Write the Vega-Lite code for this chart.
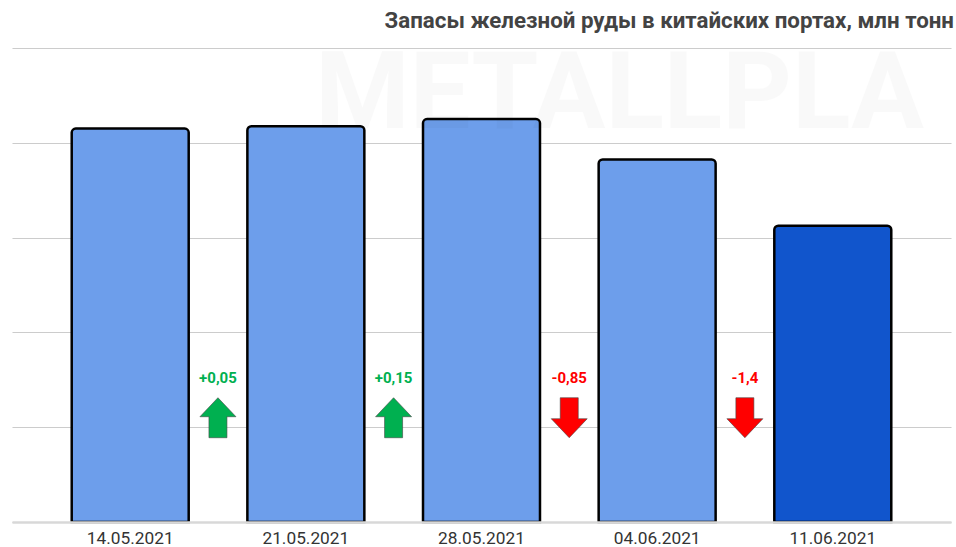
{
"$schema":"https://vega.github.io/schema/vega-lite/v6.json",
"width":939,"height":522,
"autosize":{"type":"none"},
"padding":{"left":12,"top":0,"right":5,"bottom":25},
"background":"white",
"view":{"stroke":null},
"title":{"text":"Запасы железной руды в китайских портах, млн тонн","anchor":"end","frame":"group","baseline":"middle","dy":43,"dx":3,"offset":0,"font":"Roboto","fontSize":22.3,"fontWeight":"bold","color":"#434343"},
"datasets":{
"bars":[
{"date":"14.05.2021","value":123.3,"kind":"past"},
{"date":"21.05.2021","value":123.35,"kind":"past"},
{"date":"28.05.2021","value":123.5,"kind":"past"},
{"date":"04.06.2021","value":122.65,"kind":"past"},
{"date":"11.06.2021","value":121.25,"kind":"latest"}],
"changes":[
{"date":"14.05.2021","label":"+0,05","dir":"up"},
{"date":"21.05.2021","label":"+0,15","dir":"up"},
{"date":"28.05.2021","label":"-0,85","dir":"down"},
{"date":"04.06.2021","label":"-1,4","dir":"down"}],
"marks":[{"date":"21.05.2021","text":"METALLPLA"}]
},
"encoding":{"x":{"field":"date","type":"nominal","sort":null,"title":null,
"scale":{"type":"band","paddingInner":0.334,"paddingOuter":0.34},
"axis":{"labelAngle":0,"labelFont":"Roboto","labelFontSize":17.3,"labelColor":"#333333","labelPadding":7,"ticks":false,"domainColor":"#d8d8d8","domainWidth":2.5,"grid":false,"zindex":1}}},
"layer":[
{"data":{"name":"bars"},"mark":{"type":"bar","stroke":"black","strokeWidth":2.5,"cornerRadiusTopLeft":4,"cornerRadiusTopRight":4},
"encoding":{
"y":{"field":"value","type":"quantitative","title":null,"scale":{"domain":[115,126.013],"nice":false,"zero":false},
"axis":{"values":[115,117,119,121,123,125],"labels":false,"ticks":false,"domain":false,"grid":true,"gridColor":"#cccccc","gridWidth":1.2}},
"y2":{"datum":115},
"color":{"field":"kind","type":"nominal","legend":null,"scale":{"domain":["past","latest"],"range":["#6d9eeb","#1155cc"]}}}},
{"data":{"name":"marks"},"mark":{"type":"text","align":"left","baseline":"middle","font":"Roboto","fontWeight":"bold","fontSize":108,"fill":"#000000","opacity":0.018},
"encoding":{"x":{"field":"date","type":"nominal","bandPosition":0.58},"y":{"datum":123.98},"text":{"field":"text"}}},
{"data":{"name":"changes"},"transform":[{"filter":"datum.dir==='up'"}],"mark":{"type":"point","filled":true,"fill":"#00b050","stroke":"#444444","strokeWidth":0.6,"opacity":1,"size":1600,"shape":"M0,-1 L0.9,-0.05 L0.45,-0.05 L0.45,1 L-0.45,1 L-0.45,-0.05 L-0.9,-0.05 Z"},
"encoding":{"x":{"field":"date","type":"nominal","bandPosition":1.25},"y":{"datum":117.2}}},
{"data":{"name":"changes"},"transform":[{"filter":"datum.dir==='down'"}],"mark":{"type":"point","filled":true,"fill":"#ff0000","stroke":"#444444","strokeWidth":0.6,"opacity":1,"size":1600,"shape":"M0,1 L0.9,0.05 L0.45,0.05 L0.45,-1 L-0.45,-1 L-0.45,0.05 L-0.9,0.05 Z"},
"encoding":{"x":{"field":"date","type":"nominal","bandPosition":1.25},"y":{"datum":117.2}}},
{"data":{"name":"changes"},"mark":{"type":"text","font":"Roboto","fontWeight":"bold","fontSize":15,"baseline":"middle"},
"encoding":{"x":{"field":"date","type":"nominal","bandPosition":1.25},"y":{"datum":118.04},"text":{"field":"label"},
"color":{"field":"dir","type":"nominal","legend":null,"scale":{"domain":["up","down"],"range":["#00b050","#ff0000"]}}}}
],
"resolve":{"scale":{"color":"independent"}}
}
